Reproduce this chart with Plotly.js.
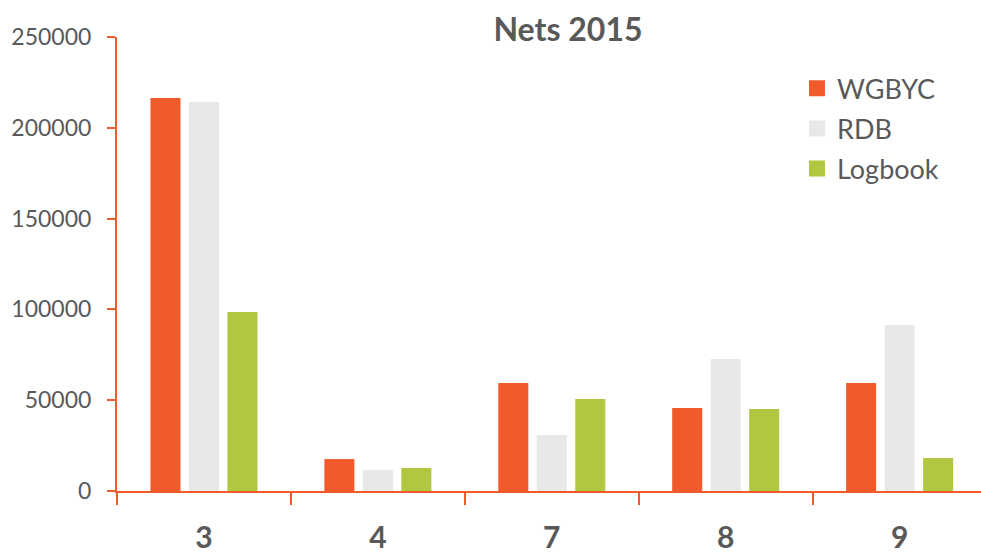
<!DOCTYPE html>
<html><head><meta charset="utf-8">
<script src="https://cdn.plot.ly/plotly-3.0.1.min.js"></script>
<style>html,body{margin:0;padding:0;background:#fff}#c{width:981px;height:554px}</style>
</head><body><div id="c"></div>
<script>
const categories = ["3", "4", "7", "8", "9"];
const wgbyc = [216400, 17600, 59500, 45700, 59500];
const rdb = [214200, 11600, 30800, 72700, 91400];
const logbook = [98600, 12700, 50700, 45200, 18200];
const yTicks = [0, 50000, 100000, 150000, 200000, 250000];
const seriesNames = ["WGBYC", "RDB", "Logbook"];
const seriesColors = ["#F15A2B", "#E7E8E7", "#B1C641"];

const orange = "#F15A2B";
const font = "Lato, 'Open Sans', sans-serif";
const values = [wgbyc, rdb, logbook];
const traces = values.map((v, i) => ({
  type: "bar", name: seriesNames[i], x: categories, y: v,
  marker: {color: seriesColors[i]}, showlegend: false
}));
// legend entries (square swatches)
seriesNames.forEach((n, i) => traces.push({
  type: "scatter", mode: "markers", name: n, x: [null], y: [null], legendgroup: n,
  marker: {symbol: "square", size: 17, color: seriesColors[i]}, hoverinfo: "skip"
}));
const layout = {
  width: 981, height: 554,
  margin: {l: 117, r: 0, t: 37, b: 63},
  paper_bgcolor: "#fff", plot_bgcolor: "#fff",
  barmode: "group", bargap: 0.336, bargroupgap: 0.22,
  font: {family: font, color: "#595959"},
  title: {text: "<b>Nets 2015</b>", font: {size: 32, color: "#595959", family: font},
          xref: "container", x: 0.579, xanchor: "center", yref: "container", y: 1 - 30/554, yanchor: "middle"},
  xaxis: {type: "category", range: [-0.5, 4.468], showline: true, linecolor: orange, linewidth: 2,
          ticks: "outside", tickson: "boundaries", ticklen: 12, tickcolor: orange, tickwidth: 2,
          tickfont: {size: 30, color: "#595959", family: font}, tickprefix: "<b>", ticksuffix: "</b>",
          ticklabelstandoff: 19, showgrid: false, zeroline: false},
  yaxis: {range: [0, 250000], tickvals: yTicks, ticktext: yTicks.map(String), showline: true, linecolor: orange, linewidth: 2,
          ticks: "outside", ticklen: 8, tickcolor: orange, tickwidth: 2, showgrid: false, zeroline: false,
          tickfont: {size: 23, color: "#595959", family: font}, ticklabelstandoff: 11},
  legend: {x: 0.787, y: 0.94, xanchor: "left", yanchor: "top", font: {size: 27, color: "#595959", family: font},
           itemwidth: 30, tracegroupgap: 2, bgcolor: "rgba(0,0,0,0)"},
  showlegend: true
};
Plotly.newPlot("c", traces, layout, {displayModeBar: false});
</script></body></html>
